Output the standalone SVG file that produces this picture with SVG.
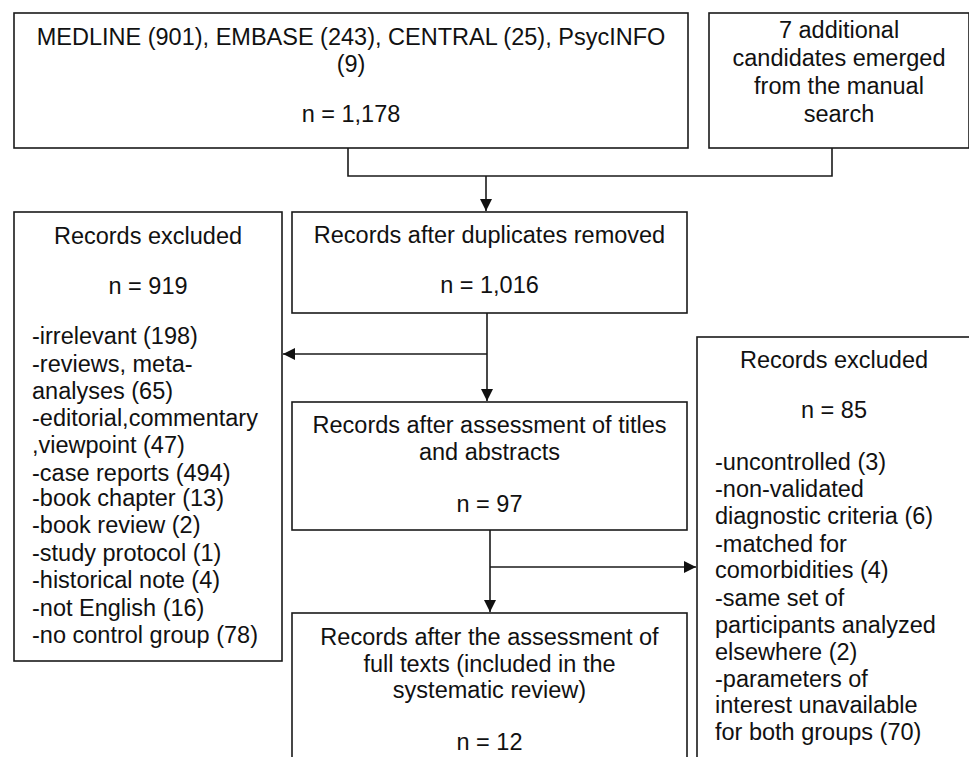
<svg xmlns="http://www.w3.org/2000/svg" width="969" height="757" viewBox="0 0 969 757">
  <style>
    .box { fill: #ffffff; stroke: #1a1a1a; stroke-width: 1.6; }
    .t { font-family: "Liberation Sans", Arial, sans-serif; font-size: 23.5px; fill: #111111; }
    .c { text-anchor: middle; }
    .conn { fill: none; stroke: #1a1a1a; stroke-width: 1.6; }
  </style>
  <defs>
    <marker id="arrow" viewBox="0 0 12 12" refX="12" refY="6" markerWidth="12" markerHeight="12" markerUnits="userSpaceOnUse" orient="auto">
      <path d="M0,0 L12,6 L0,12 Z" fill="#111111"/>
    </marker>
  </defs>
  <rect width="969" height="757" fill="#ffffff"/>

  <g id="connectors">
    <polyline class="conn" points="348,148 348,176 832,176 832,148"/>
    <line class="conn" x1="486" y1="176" x2="486" y2="211" marker-end="url(#arrow)"/>
    <line class="conn" x1="487" y1="313" x2="487" y2="401" marker-end="url(#arrow)"/>
    <line class="conn" x1="487" y1="354" x2="283" y2="354" marker-end="url(#arrow)"/>
    <line class="conn" x1="490" y1="530" x2="490" y2="612" marker-end="url(#arrow)"/>
    <line class="conn" x1="490" y1="567" x2="696" y2="567" marker-end="url(#arrow)"/>
  </g>

  <g id="databases">
    <rect class="box" x="14" y="13" width="674" height="135"/>
    <text class="t c" x="351" y="45">MEDLINE (901), EMBASE (243), CENTRAL (25), PsycINFO</text>
    <text class="t c" x="351" y="72">(9)</text>
    <text class="t c" x="351" y="122">n = 1,178</text>
  </g>

  <g id="manual">
    <rect class="box" x="709" y="13" width="260" height="135"/>
    <text class="t c" x="839" y="38">7 additional</text>
    <text class="t c" x="839" y="66">candidates emerged</text>
    <text class="t c" x="839" y="94">from the manual</text>
    <text class="t c" x="839" y="122">search</text>
  </g>

  <g id="excluded1">
    <rect class="box" x="14" y="212" width="268" height="449"/>
    <text class="t c" x="148" y="244">Records excluded</text>
    <text class="t c" x="148" y="294">n = 919</text>
    <text class="t" x="32" y="344">-irrelevant (198)</text>
    <text class="t" x="32" y="372">-reviews, meta-</text>
    <text class="t" x="32" y="399">analyses (65)</text>
    <text class="t" x="32" y="426">-editorial,commentary</text>
    <text class="t" x="32" y="453">,viewpoint (47)</text>
    <text class="t" x="32" y="481">-case reports (494)</text>
    <text class="t" x="32" y="506">-book chapter (13)</text>
    <text class="t" x="32" y="533">-book review (2)</text>
    <text class="t" x="32" y="561">-study protocol (1)</text>
    <text class="t" x="32" y="588">-historical note (4)</text>
    <text class="t" x="32" y="616">-not English (16)</text>
    <text class="t" x="32" y="643">-no control group (78)</text>
  </g>

  <g id="duplicates">
    <rect class="box" x="292" y="212" width="395" height="101"/>
    <text class="t c" x="489.5" y="243">Records after duplicates removed</text>
    <text class="t c" x="489.5" y="293">n = 1,016</text>
  </g>

  <g id="titles">
    <rect class="box" x="292" y="402" width="395" height="128"/>
    <text class="t c" x="489.5" y="433">Records after assessment of titles</text>
    <text class="t c" x="489.5" y="460">and abstracts</text>
    <text class="t c" x="489.5" y="512">n = 97</text>
  </g>

  <g id="fulltexts">
    <rect class="box" x="292" y="613" width="395" height="160"/>
    <text class="t c" x="489.5" y="645">Records after the assessment of</text>
    <text class="t c" x="489.5" y="672">full texts (included in the</text>
    <text class="t c" x="489.5" y="698">systematic review)</text>
    <text class="t c" x="489.5" y="750">n = 12</text>
  </g>

  <g id="excluded2">
    <rect class="box" x="697" y="337" width="290" height="440"/>
    <text class="t c" x="834" y="368">Records excluded</text>
    <text class="t c" x="834" y="418">n = 85</text>
    <text class="t" x="715" y="470">-uncontrolled (3)</text>
    <text class="t" x="715" y="497">-non-validated</text>
    <text class="t" x="715" y="524">diagnostic criteria (6)</text>
    <text class="t" x="715" y="552">-matched for</text>
    <text class="t" x="715" y="578">comorbidities (4)</text>
    <text class="t" x="715" y="606">-same set of</text>
    <text class="t" x="715" y="633">participants analyzed</text>
    <text class="t" x="715" y="660">elsewhere (2)</text>
    <text class="t" x="715" y="687">-parameters of</text>
    <text class="t" x="715" y="713">interest unavailable</text>
    <text class="t" x="715" y="740">for both groups (70)</text>
  </g>
</svg>
